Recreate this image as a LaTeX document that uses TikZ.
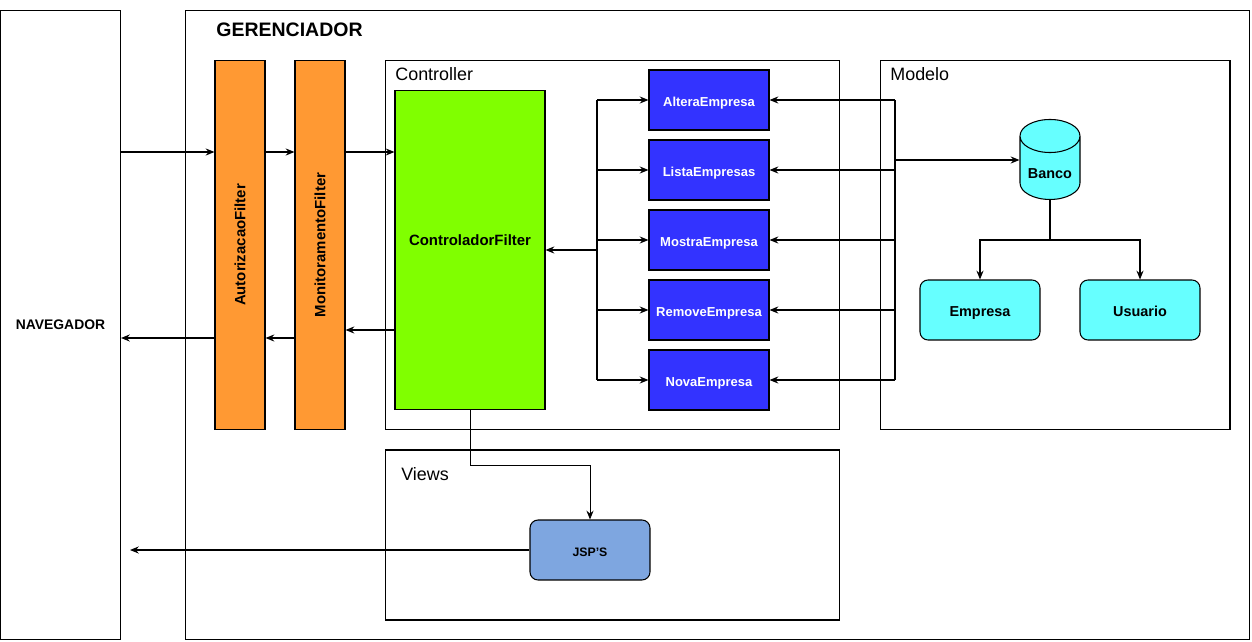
\documentclass[tikz,border=0pt]{standalone}
\usepackage{fontspec}
\setmainfont{Liberation Sans}
\usepackage{tikz}
\usetikzlibrary{positioning}
\usetikzlibrary{arrows.meta}
\usetikzlibrary{shapes.geometric}

\definecolor{laranja}{HTML}{FF9933}
\definecolor{verde}{HTML}{80FF00}
\definecolor{azul}{HTML}{3333FF}
\definecolor{ciano}{HTML}{66FFFF}
\definecolor{azulclaro}{HTML}{7EA6E0}

\begin{document}
\begin{tikzpicture}[x=0.02cm,y=-0.02cm,
  caixa/.style={draw,line width=0.6pt,inner sep=0pt},
  filtro/.style={caixa,fill=laranja,minimum width=1cm,minimum height=7.4cm},
  rotulo/.style={rotate=90,font=\bfseries\fontsize{8.5}{10}\selectfont},
  acao/.style={caixa,fill=azul,text=white,minimum width=2.4cm,minimum height=1.2cm,text height=1.6ex,text depth=0.1ex,font=\bfseries\fontsize{7.4}{9}\selectfont},
  entidade/.style={caixa,rounded corners=0.16cm,minimum width=2.4cm,minimum height=1.2cm,text height=1.6ex,text depth=0.1ex,font=\bfseries\fontsize{8.2}{10}\selectfont},
  titulo/.style={anchor=west,inner sep=0pt,font=\fontsize{10.2}{12}\selectfont},
  seta/.style={-{Stealth[length=5pt,width=4pt]},line width=0.6pt}
]
\useasboundingbox (0,0) rectangle (1252,642);

% caixas externas
\node[caixa,minimum width=2.4cm,minimum height=12.6cm,font=\bfseries\fontsize{7.9}{9}\selectfont] (nav) at (60.5,325) {NAVEGADOR};
\node[caixa,minimum width=21.3cm,minimum height=12.6cm] (ger) at (717.5,325) {};
\node[anchor=west,inner sep=0pt,font=\bfseries\fontsize{11.1}{13}\selectfont] (gertit) at (216,30) {GERENCIADOR};

% filtros
\node[filtro,label={[rotulo]center:AutorizacaoFilter}] (aut) at (240,245) {};
\node[filtro,label={[rotulo]center:MonitoramentoFilter}] (mon) at (320,245) {};

% controller
\node[caixa,minimum width=9.1cm,minimum height=7.4cm] (ctrl) at (612.5,245) {};
\node[titulo] (ctrltit) at (395,74) {Controller};
\node[caixa,fill=verde,minimum width=3cm,minimum height=6.4cm,
  label={[font=\bfseries\fontsize{8.5}{10}\selectfont,yshift=5.5pt]center:ControladorFilter}] (cf) at (470,250) {};

\node[acao] (altera) at (709,100) {AlteraEmpresa};
\node[acao] (lista) at (709,170) {ListaEmpresas};
\node[acao] (mostra) at (709,240) {MostraEmpresa};
\node[acao] (remove) at (709,310) {RemoveEmpresa};
\node[acao] (nova) at (709,380) {NovaEmpresa};

% modelo
\node[caixa,minimum width=7cm,minimum height=7.4cm] (modelo) at (1055,245) {};
\node[titulo] (modtit) at (890,74) {Modelo};
\node[caixa,cylinder,shape border rotate=90,aspect=0.75,fill=ciano,minimum width=1.2cm,minimum height=1.6cm,anchor=south,
  font=\bfseries\fontsize{8.2}{10}\selectfont,
  label={[font=\bfseries\fontsize{8.2}{10}\selectfont,yshift=-3pt]center:Banco}] (banco) at (1050,200) {\phantom{Banco}};
\node[entidade,fill=ciano] (empresa) at (980,310) {Empresa};
\node[entidade,fill=ciano] (usuario) at (1140,310) {Usuario};

% views
\node[caixa,minimum width=9.1cm,minimum height=3.4cm] (views) at (612.5,535) {};
\node[titulo] (viewtit) at (401,474) {Views};
\node[entidade,fill=azulclaro,font=\bfseries\fontsize{7}{9}\selectfont] (jsp) at (590,550) {JSP'S};

% requisicao
\draw[seta] (nav.east |- 0,152) -- (aut.west |- 0,152);
\draw[seta] (aut.east |- 0,152) -- (mon.west |- 0,152);
\draw[seta] (mon.east |- 0,152) -- (cf.west |- 0,152);
% resposta
\draw[seta] (cf.west |- 0,330) -- (mon.east |- 0,330);
\draw[seta] (mon.west |- 0,338) -- (aut.east |- 0,338);
\draw[seta] (aut.west |- 0,338) -- (nav.east |- 0,338);

% barramentos das acoes
\coordinate (bese) at (597,100);
\coordinate (besi) at (597,380);
\coordinate (bdse) at (895,100);
\coordinate (bdsi) at (895,380);
\draw[line width=0.6pt] (bese) -- (besi);
\draw[line width=0.6pt] (bdse) -- (bdsi);
\foreach \acao in {altera,lista,mostra,remove,nova} {
  \draw[seta] (bese |- \acao.west) -- (\acao.west);
  \draw[seta] (bdse |- \acao.east) -- (\acao.east);
}
\draw[seta] (bese |- cf.east) -- (cf.east);
\draw[seta] (bdse |- 0,160) -- (banco.west |- 0,160);

% banco
\coordinate (bancoc) at (1050,240);
\draw[seta] (banco.south) -- (bancoc) -| (empresa.north);
\draw[seta] (bancoc) -| (usuario.north);

% views
\coordinate (cfj) at (470,465);
\coordinate (navj) at (130,550);
\draw[seta,line width=0.5pt] (cf.south) -- (cfj) -| (jsp.north);
\draw[seta] (jsp.west) -- (navj);
\end{tikzpicture}
\end{document}
